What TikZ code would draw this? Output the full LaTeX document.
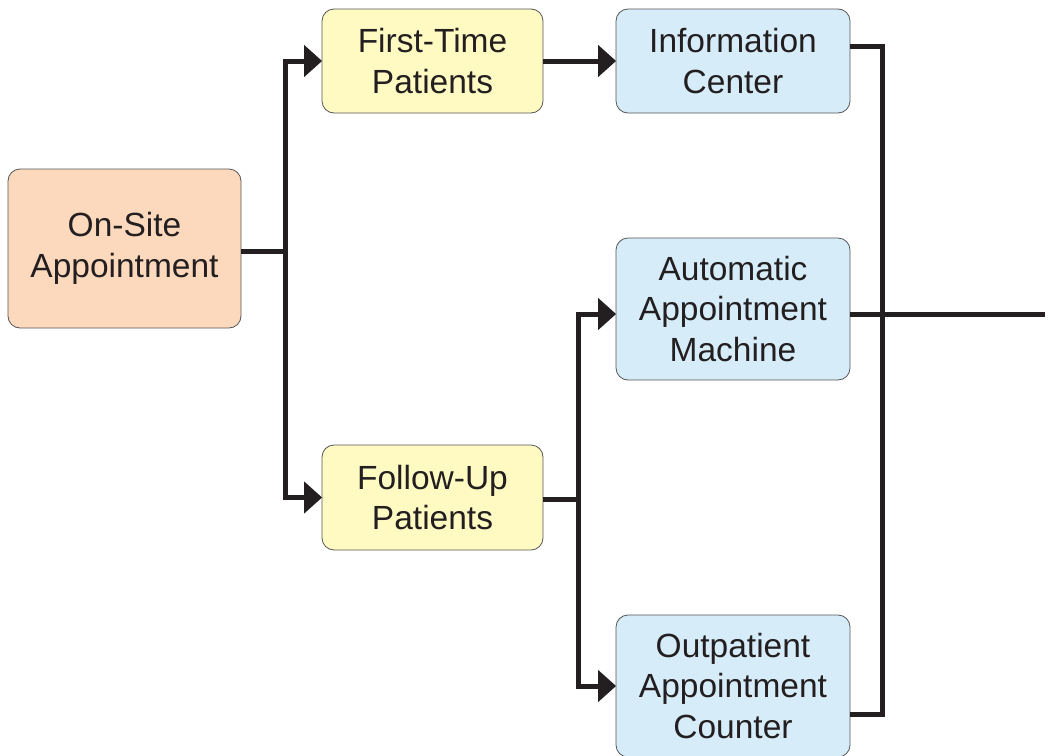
\documentclass[tikz,border=0pt]{standalone}
\usepackage{fontspec}
\setmainfont{Liberation Sans}
\usetikzlibrary{arrows.meta}
\definecolor{lineC}{HTML}{231F20}
\definecolor{orangeF}{HTML}{FCD9BD}
\definecolor{yellowF}{HTML}{FFF9C2}
\definecolor{blueF}{HTML}{D6EDF9}
\definecolor{borderC}{HTML}{555555}
\tikzset{
  box/.style={draw=borderC, line width=0.8pt, rounded corners=12pt, align=center,
    inner sep=0pt, font=\fontsize{33.5}{40.5}\selectfont, text=lineC},
  conn/.style={draw=lineC, line width=5pt},
  arr/.style={conn, -{Triangle[length=18pt,width=31pt]}, shorten >=-0.5pt}
}
\begin{document}
\begin{tikzpicture}[x=1pt,y=-1pt]
\useasboundingbox (0,0) rectangle (1051,755);
\node[box, fill=orangeF, minimum width=233pt, minimum height=159pt] (onsite) at (124.5,248.5) {On-Site\\Appointment};
\node[box, fill=yellowF, minimum width=221pt, minimum height=104pt] (first) at (432.5,61) {First-Time\\Patients};
\node[box, fill=yellowF, minimum width=221pt, minimum height=105pt] (follow) at (432.5,497.5) {Follow-Up\\Patients};
\node[box, fill=blueF, minimum width=234pt, minimum height=104pt] (info) at (733,61) {Information\\Center};
\node[box, fill=blueF, minimum width=234pt, minimum height=142pt] (auto) at (733,309) {Automatic\\Appointment\\Machine};
\node[box, fill=blueF, minimum width=234pt, minimum height=142pt] (out) at (733,686) {Outpatient\\Appointment\\Counter};
\coordinate (sp1) at (285,251);
\coordinate (sp2) at (578,499);
\coordinate (rv) at (882,314);
\coordinate (exit) at (1045,314);
% left split
\draw[conn] (onsite.east |- sp1) -- (sp1);
\draw[arr] (sp1) |- (first.west);
\draw[arr] (sp1) |- (follow.west);
% first to info
\draw[arr] (first.east) -- (info.west);
% follow-up split
\draw[conn] (follow.east |- sp2) -- (sp2);
\draw[arr] (sp2) |- (auto.west |- 0,314);
\draw[arr] (sp2) |- (out.west);
% right collector
\draw[conn] (info.east |- 0,46) -| (rv) |- (out.east |- 0,714);
\draw[conn] (auto.east |- 0,314) -- (exit);
\end{tikzpicture}
\end{document}
